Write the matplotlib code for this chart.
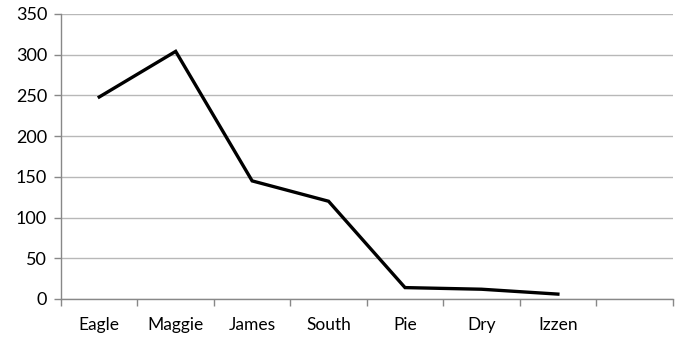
import matplotlib
matplotlib.use("Agg")
import matplotlib.pyplot as plt
import numpy as np

# Data
categories = ["Eagle", "Maggie", "James", "South", "Pie", "Dry", "Izzen"]
values = [248, 304, 145, 120, 14, 12, 6]
n_slots = 8  # the axis keeps one empty category slot at the right
y_ticks = [0, 50, 100, 150, 200, 250, 300, 350]

plt.rcParams["font.family"] = ["Lato", "DejaVu Sans"]

fig = plt.figure(figsize=(6.81, 3.39), dpi=100)
ax = fig.add_axes([0.0896, 0.118, 0.898, 0.841])

x = np.arange(len(categories))
ax.plot(x, values, color="black", linewidth=2.4, solid_joinstyle="miter")

ax.set_xlim(-0.5, n_slots - 0.5)
ax.set_ylim(0, 350)
ax.set_yticks(y_ticks)
ax.set_yticklabels([str(v) for v in y_ticks], fontsize=13)

# category labels centred, tick marks on the slot boundaries
ax.set_xticks(x)
ax.set_xticklabels(categories, fontsize=12.5)
ax.tick_params(axis="x", which="major", length=0, pad=13)
ax.set_xticks(np.arange(n_slots + 1) - 0.5, minor=True)
ax.tick_params(axis="x", which="minor", length=5, color="#888888", width=1)
ax.tick_params(axis="y", length=5, color="#888888", width=1, pad=5)

ax.grid(axis="y", color="#b8b8b8", linewidth=1)
ax.set_axisbelow(True)
for side in ["top", "right"]:
    ax.spines[side].set_visible(False)
for side in ["left", "bottom"]:
    ax.spines[side].set_color("#888888")
    ax.spines[side].set_linewidth(1)

fig.savefig("out.png", dpi=100)
